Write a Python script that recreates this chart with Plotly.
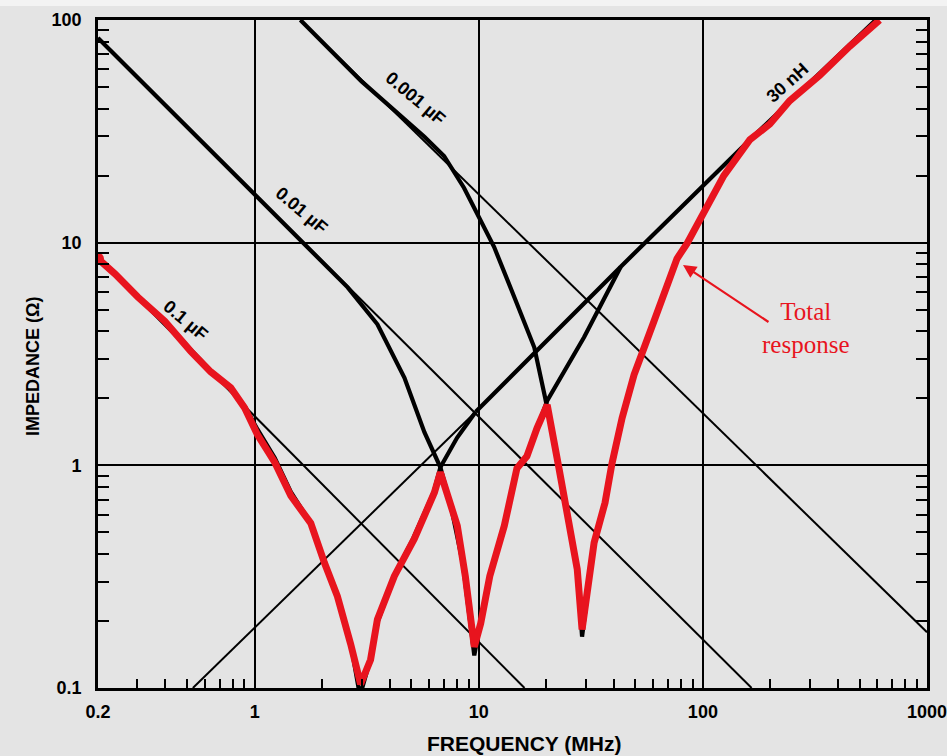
import plotly.graph_objects as go

# ---------------- data ----------------
# thin asymptotes of the pure capacitors and the 30 nH inductance
a1_f = [0.2, 16]
a1_z = [8.5, 0.1]
a2_f = [0.2, 165]
a2_z = [83, 0.1]
a3_f = [1.6, 1000]
a3_z = [100, 0.178]
l_thin_f = [0.53, 9.7]
l_thin_z = [0.1, 1.74]

# thick curves (capacitor + 30 nH)
c1_f = [0.2, 0.24, 0.3, 0.4, 0.52, 0.64, 0.78, 0.9, 1.03, 1.23, 1.45, 1.78, 2.05,
        2.34, 2.68, 2.95, 3.25, 3.55, 4.2, 5.1, 6.3, 6.74, 8.0, 9.7]
c1_z = [8.5, 7.2, 5.7, 4.4, 3.3, 2.65, 2.2, 1.85, 1.45, 1.08, 0.76, 0.55, 0.37,
        0.26, 0.16, 0.092, 0.13, 0.2, 0.32, 0.47, 0.76, 0.98, 1.33, 1.74]

c2_f = [0.2, 0.5, 1.0, 1.72, 2.6, 3.53, 4.66, 5.72, 6.74, 7.5, 8.5, 9.2, 9.55,
        10.2, 11.2, 13.0, 14.8, 16.4, 18.2, 20.2, 29.5, 43]
c2_z = [83, 33, 16.5, 9.5, 6.3, 4.3, 2.47, 1.41, 0.98, 0.66, 0.36, 0.19, 0.14,
        0.2, 0.32, 0.54, 0.97, 1.1, 1.47, 1.95, 3.76, 7.8]

c3_f = [1.6, 3.0, 5.72, 7.0, 8.6, 10.2, 11.7, 14.4, 17.7, 19.8, 22.8, 24.8, 27.5,
        28.9, 30.4, 32.7, 36.6, 39.3, 43.6, 49.3, 60.5, 76.6, 85, 104, 124, 162]
c3_z = [100, 53, 29.9, 24.5, 17.6, 12.6, 9.58, 5.7, 3.38, 2.0, 0.97, 0.59, 0.34,
        0.17, 0.26, 0.45, 0.68, 1.02, 1.63, 2.55, 4.44, 8.47, 9.9, 14.4, 20.0, 29.0]

l_f = [9.7, 43, 162, 590]
l_z = [1.74, 7.8, 29, 100]

# red hand-drawn total response
tot_f = [0.2, 0.238, 0.301, 0.397, 0.519, 0.637, 0.782, 0.903, 1.03, 1.23, 1.45,
         1.78, 2.05, 2.34, 2.68, 2.97, 3.29, 3.53, 4.2, 5.16, 6.34, 6.74, 8.02,
         8.71, 9.55, 10.2, 11.2, 13.0, 14.8, 16.4, 18.2, 20.2, 22.8, 24.8, 27.5,
         28.9, 30.4, 32.7, 36.6, 39.3, 43.6, 49.3, 60.5, 76.6, 84.9, 104, 124,
         162, 199, 244, 332, 452, 614]
tot_z = [8.47, 7.24, 5.70, 4.44, 3.25, 2.63, 2.23, 1.81, 1.37, 1.03, 0.73, 0.55,
         0.364, 0.258, 0.158, 0.104, 0.134, 0.203, 0.318, 0.468, 0.755, 0.93,
         0.535, 0.318, 0.153, 0.195, 0.318, 0.535, 0.97, 1.1, 1.47, 1.87, 0.97,
         0.594, 0.342, 0.183, 0.266, 0.449, 0.68, 1.02, 1.63, 2.55, 4.44, 8.47,
         9.9, 14.4, 20.0, 29.0, 34.1, 43.4, 56.4, 76.2, 100]

x_tickvals = [0.2, 1, 10, 100, 1000]
x_ticktext = ["0.2", "1", "10", "100", "1000"]
y_tickvals = [0.1, 1, 10, 100]
y_ticktext = ["0.1", "1", "10", "100"]

curve_labels = ["0.001 µF", "0.01 µF", "0.1 µF", "30 nH"]

# ---------------- figure ----------------
BG = "#e4e4e4"
RED = "#e8141e"
fig = go.Figure()


def add(f, z, w, color="black"):
    fig.add_trace(go.Scatter(x=f, y=z, mode="lines",
                             line=dict(color=color, width=w),
                             hoverinfo="skip", showlegend=False))


for f, z in [(a1_f, a1_z), (a2_f, a2_z), (a3_f, a3_z), (l_thin_f, l_thin_z)]:
    add(f, z, 2)
for f, z in [(c1_f, c1_z), (c2_f, c2_z), (c3_f, c3_z), (l_f, l_z)]:
    add(f, z, 4.2)
add(tot_f, tot_z, 7, RED)
fig.add_trace(go.Scatter(x=tot_f[:1], y=tot_z[:1], mode="markers",
                         marker=dict(color=RED, size=12),
                         hoverinfo="skip", showlegend=False))

minor_x = [k * 10 ** d for d in range(-1, 3) for k in range(2, 10)
           if 0.2 < k * 10 ** d < 1000]
minor_y = [k * 10 ** d for d in range(-1, 2) for k in range(2, 10)]

tickfont = dict(family="Liberation Sans, Arial", size=18, color="black",
                weight="bold")

fig.update_layout(
    width=947, height=756,
    margin=dict(l=98, r=20, t=20, b=68),
    paper_bgcolor=BG, plot_bgcolor=BG,
    xaxis=dict(type="log", range=[-0.69897, 3], automargin=False,
               tickmode="array", tickvals=x_tickvals, ticktext=x_ticktext,
               showgrid=True, gridcolor="black", gridwidth=1.6,
               showline=True, linecolor="black", linewidth=2.6, mirror=True,
               ticks="inside", ticklen=0, tickfont=tickfont,
               ticklabelstandoff=6, ticklabeloverflow="allow", zeroline=False,
               minor=dict(tickmode="array", tickvals=minor_x, ticks="inside",
                          ticklen=9, tickwidth=2, tickcolor="black",
                          showgrid=False)),
    yaxis=dict(type="log", range=[-1, 2], automargin=False,
               tickmode="array", tickvals=y_tickvals, ticktext=y_ticktext,
               showgrid=True, gridcolor="black", gridwidth=1.6,
               showline=True, linecolor="black", linewidth=2.6, mirror="ticks",
               ticks="inside", ticklen=0, tickfont=tickfont,
               ticklabelstandoff=10, ticklabeloverflow="allow", zeroline=False,
               minor=dict(tickmode="array", tickvals=minor_y, ticks="inside",
                          ticklen=11, tickwidth=2, tickcolor="black",
                          showgrid=False)),
)


def px(xp, yp):
    return (xp - 98) / 829, (688 - yp) / 668


lab_font = dict(family="Liberation Sans, Arial", size=18, color="black",
                weight="bold")
label_pos = [(415, 98, 40), (301, 210, 40), (185, 320, 40), (787, 83, -42)]
for text, (xp, yp, ang) in zip(curve_labels, label_pos):
    x, y = px(xp, yp)
    fig.add_annotation(x=x, y=y, xref="paper", yref="paper", text=text,
                       xanchor="center", yanchor="middle",
                       showarrow=False, textangle=ang, font=lab_font)

x, y = px(524, 743)
fig.add_annotation(x=x, y=y, xref="paper", yref="paper", text="FREQUENCY (MHz)",
                   xanchor="center", yanchor="middle", showarrow=False,
                   font=dict(family="Liberation Sans, Arial", size=21,
                             color="black", weight="bold"))
x, y = px(33, 367)
fig.add_annotation(x=x, y=y, xref="paper", yref="paper", text="IMPEDANCE (Ω)",
                   xanchor="center", yanchor="middle", showarrow=False,
                   textangle=-90,
                   font=dict(family="Liberation Sans, Arial", size=18,
                             color="black", weight="bold"))

# arrow + "Total response" text
x, y = px(683, 265)
fig.add_annotation(x=x, y=y, xref="paper", yref="paper", text="",
                   showarrow=True, ax=87, ay=58, arrowcolor=RED,
                   arrowwidth=2.2, arrowhead=2, arrowsize=1.2, standoff=0)
x, y = px(805, 328)
fig.add_annotation(x=x, y=y, xref="paper", yref="paper",
                   text="Total<br>response", showarrow=False,
                   xanchor="center", yanchor="middle",
                   font=dict(family="Liberation Serif, Times New Roman",
                             size=25, color=RED))

# light strip at the very top of the scan
fig.add_shape(type="rect", xref="paper", yref="paper", x0=-0.2, x1=1.1,
              y0=(688 - 6) / 668, y1=1.2, fillcolor="#f3f3f3",
              line=dict(width=0), layer="below")

fig.write_html("out.html")
